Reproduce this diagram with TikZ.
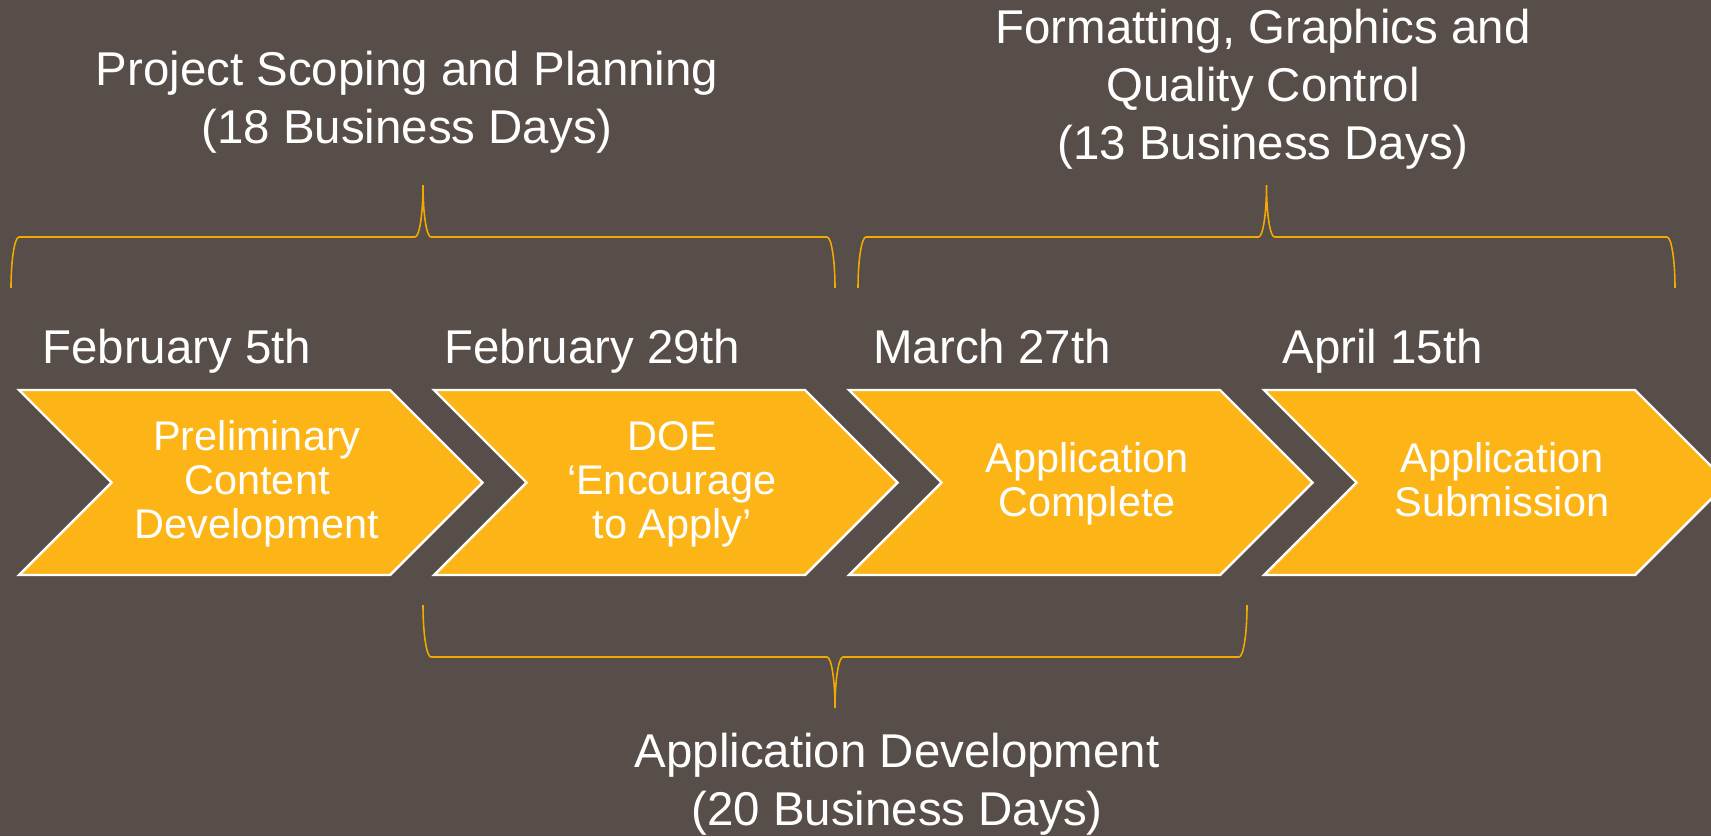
\documentclass[tikz,border=0pt]{standalone}
\usepackage{fontspec}
\setmainfont{Liberation Sans}
\usepackage{tikz}

\definecolor{bgbrown}{HTML}{574D49}
\definecolor{chevfill}{HTML}{FDB416}
\definecolor{braceline}{HTML}{F2A900}

\tikzset{
  chevron/.style={fill=chevfill, draw=white, line width=1.4pt},
  brace/.style={draw=braceline, line width=0.9pt},
  datetext/.style={text=white, inner sep=0pt, anchor=base west, font=\fontsize{27}{33}\selectfont},
  steptext/.style={text=white, inner sep=0pt, align=center, font=\fontsize{23.6}{25}\selectfont},
  phasetext/.style={text=white, inner sep=0pt, align=center, font=\fontsize{27}{33}\selectfont}
}

\begin{document}
\begin{tikzpicture}[x=0.02cm, y=-0.02cm]
\fill[bgbrown] (0,0) rectangle (1711,836);
\useasboundingbox (0,0) rectangle (1711,836);

\foreach \x in {19,434,849,1264}
  \draw[chevron] (\x,390) -- ++(371,0) -- ++(92.5,92.5) -- ++(-92.5,92.5) -- ++(-371,0) -- ++(92.5,-92.5) -- cycle;

\node[steptext] (prelim) at (257,484) {Preliminary\\Content\\Development};
\node[steptext] (doe) at (672,484) {DOE\\‘Encourage\\to Apply’};
\node[steptext] (complete) at (1087,484) {Application\\Complete};
\node[steptext] (submit) at (1502,480) {Application\\Submission};

\node[datetext] (feb5) at (42,363) {February 5th};
\node[datetext] (feb29) at (444,363) {February 29th};
\node[datetext] (mar27) at (873,363) {March 27th};
\node[datetext] (apr15) at (1282,363) {April 15th};

\draw[brace] (11,288) .. controls (11,260) and (14.6,237) .. (19,237) -- (415,237)
  .. controls (419.4,237) and (423,214) .. (423,185)
  .. controls (423,214) and (426.6,237) .. (431,237) -- (827,237)
  .. controls (831.4,237) and (835,260) .. (835,288);
\draw[brace] (858,288) .. controls (858,260) and (861.6,237) .. (866,237) -- (1258.5,237)
  .. controls (1262.9,237) and (1266.5,214) .. (1266.5,185)
  .. controls (1266.5,214) and (1270.1,237) .. (1274.5,237) -- (1667,237)
  .. controls (1671.4,237) and (1675,260) .. (1675,288);
\draw[brace] (423,605) .. controls (423,634) and (426.6,657) .. (431,657) -- (827,657)
  .. controls (831.4,657) and (835,680) .. (835,708)
  .. controls (835,680) and (838.6,657) .. (843,657) -- (1239,657)
  .. controls (1243.4,657) and (1247,634) .. (1247,605);

\node[phasetext] (scoping) at (407,102.5) {Project Scoping and Planning\\(18 Business Days)};
\node[phasetext] (formatting) at (1263,89) {Formatting, Graphics and\\Quality Control\\(13 Business Days)};
\node[phasetext] (appdev) at (897,784.5) {Application Development\\(20 Business Days)};
\end{tikzpicture}
\end{document}
